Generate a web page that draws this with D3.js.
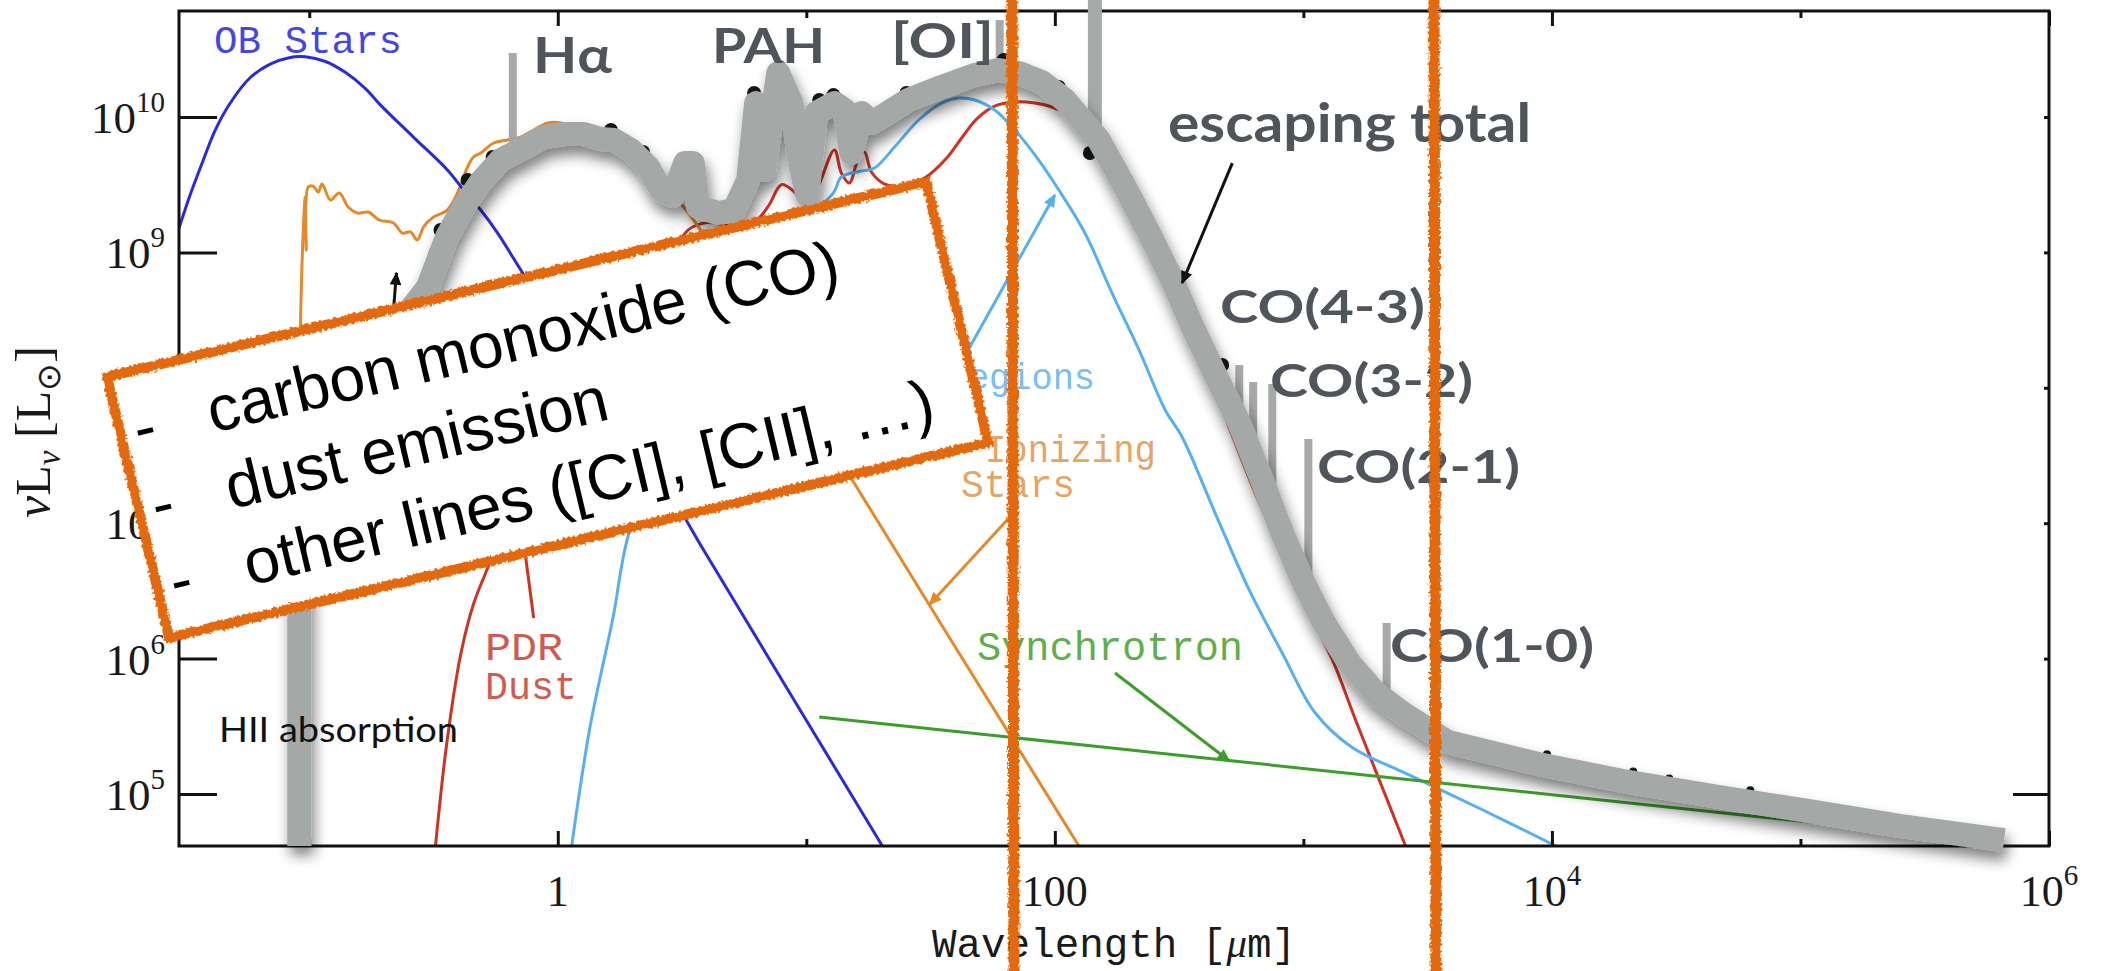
<!DOCTYPE html>
<html>
<head>
<meta charset="utf-8">
<script src="https://cdn.jsdelivr.net/npm/d3@7"></script>
<style>
body{margin:0;background:#fff;}
</style>
</head>
<body>
<svg id="sed" width="2107" height="971"></svg>
<script>
// every point is [log10 wavelength (um), log10 nuL_nu (Lsun)]
var obStars = [[-1.524,9.18],[-1.48,9.42],[-1.435,9.64],[-1.379,9.9],[-1.319,10.1],[-1.238,10.29],[-1.157,10.39],[-1.077,10.44],[-1.016,10.445],
  [-0.935,10.41],[-0.855,10.33],[-0.774,10.21],[-0.714,10.09],[-0.581,9.852],[-0.444,9.609],[-0.379,9.461],[-0.31,9.313],[-0.242,9.143],
  [-0.141,8.848],[0.492,7.097],[0.577,6.832],[1.306,4.616]];

var ionizingStars = [[-1.04,4.3],[-1.04,7.91],[-1.024,9.165],[-1.016,9.409],[-1.012,9.018],[-1.004,9.483],[-0.984,9.49],[-0.964,9.446],
  [-0.948,9.505],[-0.915,9.387],[-0.879,9.439],[-0.843,9.335],[-0.806,9.291],[-0.762,9.298],[-0.718,9.239],[-0.661,9.217],[-0.625,9.143],
  [-0.593,9.151],[-0.565,9.092],[-0.54,9.188],[-0.5,9.261],[-0.444,9.313],[-0.403,9.439],[-0.363,9.631],[-0.339,9.705],[-0.31,9.734],
  [-0.258,9.808],[-0.202,9.83],[-0.149,9.852],[-0.097,9.904],[-0.04,9.956],[0.012,9.956],[0.25,9.8],[0.5,9.35],[0.8,8.5],[1.19,7.304],[2.097,4.616]];

var hiiRegions = [[0.056,4.616],[0.129,5.487],[0.222,6.3],[0.29,6.95],[0.5,7.85],[0.75,8.65],[0.95,9.15],[1.109,9.439],[1.141,9.557],
  [1.222,9.601],[1.274,9.623],[1.355,9.778],[1.452,9.978],[1.544,10.103],[1.613,10.14],[1.677,10.126],[1.758,10.052],[1.839,9.904],
  [1.935,9.682],[2.016,9.461],[2.121,9.143],[2.23,8.7],[2.339,8.279],[2.444,7.836],[2.512,7.637],[2.645,7.075],[2.782,6.507],[2.915,6.041],
  [3.048,5.598],[3.198,5.341],[3.399,5.163],[3.722,4.882],[4.016,4.616]];

var pdrDust = [[-0.492,4.616],[-0.448,5.355],[-0.391,6.027],[-0.339,6.403],[-0.282,6.669],[-0.1,7.5],[0.2,8.4],[0.45,8.95],[0.524,9.165],
  [0.6,9.22],[0.68,9.2],[0.738,9.2],[0.806,9.25],[0.85,9.35],[0.9,9.5],[0.95,9.45],[1.0,9.35],[1.05,9.5],[1.113,9.756],[1.141,9.586],
  [1.173,9.513],[1.21,9.697],[1.234,9.742],[1.262,9.594],[1.315,9.505],[1.395,9.49],[1.476,9.549],[1.565,9.697],[1.625,9.845],[1.685,9.985],
  [1.758,10.081],[1.839,10.111],[1.919,10.103],[1.988,10.074],[2.069,10.0],[2.2,9.78],[2.35,9.3],[2.5,8.65],[2.65,7.95],[2.8,7.25],
  [2.95,6.62],[3.036,6.285],[3.117,5.99],[3.21,5.547],[3.411,4.616]];

var synchrotron = [[1.052,5.569],[2.2,5.345],[3.399,5.111],[5.036,4.793],[5.5,4.7]];

var escapingTotal = [[-1.04,4.616],[-1.04,7.762],[-0.875,8.058],[-0.673,8.39],[-0.524,8.737],[-0.444,9.121],[-0.379,9.335],[-0.31,9.52],
  [-0.23,9.682],[-0.137,9.771],[-0.056,9.852],[0.024,9.874],[0.105,9.874],[0.173,9.838],[0.226,9.83],[0.294,9.756],[0.363,9.631],
  [0.415,9.461],[0.464,9.417],[0.512,9.66],[0.544,9.66],[0.565,9.335],[0.645,9.291],[0.71,9.313],[0.766,9.535],[0.798,10.103],[0.831,9.609],
  [0.887,10.325],[0.94,10.103],[0.972,9.682],[1.004,9.424],[1.04,10.03],[1.113,10.103],[1.153,10.052],[1.181,9.734],[1.222,10.03],
  [1.262,9.956],[1.302,10.0],[1.411,10.126],[1.544,10.222],[1.677,10.31],[1.774,10.347],[1.855,10.325],[1.948,10.258],[2.04,10.126],
  [2.177,9.83],[2.282,9.483],[2.379,9.143],[2.472,8.796],[2.552,8.46],[2.645,8.1],[2.742,7.74],[2.835,7.31],[2.915,6.928],[2.996,6.58],
  [3.077,6.285],[3.185,5.967],[3.29,5.746],[3.399,5.598],[3.581,5.384],[3.944,5.222],[4.306,5.089],[4.673,4.978],[5.036,4.874],
  [5.399,4.764],[5.819,4.66]];

var totalPoints = [[-0.472,9.165],[-0.492,8.996],[-0.484,8.929],[-0.363,9.535],[-0.262,9.705],[0.214,9.904],[0.343,9.742],[0.79,10.177],
  [0.891,10.369],[1.052,10.126],[1.109,10.162],[1.403,10.177],[1.794,10.421],[1.899,10.325],[2.016,10.222],[2.141,9.734],[2.673,8.168],
  [3.98,5.294],[4.327,5.166],[4.472,5.115],[4.798,5.027]];

// emission lines: wavelength, top, base
var lineLam = [-0.181,1.778,2.161,2.742,2.798,2.875,3.02,3.335];
var lineTop = [10.473,10.716,10.864,8.168,8.043,8.028,7.622,6.263];
var lineBase = [9.73,10.345,9.87,7.76,7.5,7.12,6.5,5.69];

var xMajor = [1,100,1e4,1e6], xMinor = [0.1,10,1e3,1e5];
var xTickBase = ["1","100","10","10"], xTickExp = ["","","4","6"];
var yMajor = [1e5,1e6,1e7,1e8,1e9,1e10], yTickExp = ["5","6","7","8","9","10"];

var boxLines = ["carbon monoxide (CO)","dust emission","other lines ([CI], [CII], \u2026)"];

var arrowIonizing = [[1.819,7.046],[1.496,6.4]];
var arrowHII = [[1.633,8.22],[2.0,9.424]];
var arrowSynch = [[2.242,5.894],[2.702,5.244]];
var arrowEscape = [[2.714,9.66],[2.512,8.774]];
var arrowAbsorb = [[-0.661,8.575],[-0.649,8.848]];
var pdrPointer = [[-0.133,6.802],[-0.097,6.3]];

var x = d3.scaleLog().domain([Math.pow(10,-1.524),1e6]).range([179,2049]);
var y = d3.scaleLog().domain([Math.pow(10,4.616),Math.pow(10,10.783)]).range([846,11]);
function px(d){return x(Math.pow(10,d[0]));}
function py(d){return y(Math.pow(10,d[1]));}
var line = d3.line().x(px).y(py).curve(d3.curveCatmullRom.alpha(0.5));
var straight = d3.line().x(px).y(py);

var svg = d3.select("#sed");
var defs = svg.append("defs");
defs.append("clipPath").attr("id","plotclip").append("rect")
  .attr("x",179).attr("y",11).attr("width",1870).attr("height",835);

var shadow = defs.append("filter").attr("id","shadow")
  .attr("x","-5%").attr("y","-5%").attr("width","112%").attr("height","125%");
shadow.append("feGaussianBlur").attr("in","SourceAlpha").attr("stdDeviation",7).attr("result","blur");
shadow.append("feOffset").attr("in","blur").attr("dx",3).attr("dy",9).attr("result","off");
shadow.append("feComponentTransfer").attr("in","off").attr("result","soft")
  .append("feFuncA").attr("type","linear").attr("slope",0.5);
var merge = shadow.append("feMerge");
merge.append("feMergeNode").attr("in","soft");
merge.append("feMergeNode").attr("in","SourceGraphic");

var rough = defs.append("filter").attr("id","rough").attr("filterUnits","userSpaceOnUse")
  .attr("x",-300).attr("y",-300).attr("width",2800).attr("height",1600);
rough.append("feTurbulence").attr("type","fractalNoise").attr("baseFrequency",0.35)
  .attr("numOctaves",2).attr("seed",4).attr("result","noise");
rough.append("feDisplacementMap").attr("in","SourceGraphic").attr("in2","noise").attr("scale",6)
  .attr("xChannelSelector","R").attr("yChannelSelector","G");

function marker(id,color){
  defs.append("marker").attr("id",id).attr("viewBox","0 0 10 10")
    .attr("refX",9).attr("refY",5).attr("markerWidth",15).attr("markerHeight",13)
    .attr("markerUnits","userSpaceOnUse").attr("orient","auto")
    .append("path").attr("d","M0,0.5 L10,5 L0,9.5 z").attr("fill",color);
}
marker("mOrange","#e38a2c");
marker("mBlue","#58aff0");
marker("mGreen","#3c9e2a");
marker("mBlack","#111");

// model components
var comps = svg.append("g").attr("clip-path","url(#plotclip)").attr("fill","none").attr("stroke-width",3);
[[pdrDust,"#cc3322"],[hiiRegions,"#58aff0"],[synchrotron,"#3c9e2a"],[ionizingStars,"#e38a2c"],[obStars,"#2b2bd6"]]
.forEach(function(c){
  comps.append("path").attr("d",line(c[0])).attr("stroke",c[1]).attr("stroke-linejoin","round");
});

var arrows = svg.append("g").attr("fill","none").attr("stroke-width",3);
arrows.append("path").attr("d",straight(arrowIonizing)).attr("stroke","#e38a2c").attr("marker-end","url(#mOrange)");
arrows.append("path").attr("d",straight(arrowHII)).attr("stroke","#58aff0").attr("marker-end","url(#mBlue)");
arrows.append("path").attr("d",straight(arrowSynch)).attr("stroke","#3c9e2a").attr("marker-end","url(#mGreen)");
arrows.append("path").attr("d",straight(pdrPointer)).attr("stroke","#cc3322");

function label(t,xx,yy,size,len,color,anchor){
  return svg.append("text").attr("x",xx).attr("y",yy)
    .attr("font-family","'Liberation Mono', monospace").attr("font-size",size)
    .attr("fill",color).attr("text-anchor",anchor||"start")
    .attr("textLength",len).attr("lengthAdjust","spacingAndGlyphs").text(t);
}
label("OB Stars",214,53,39,188,"#4545df");
label("PDR",485,660,39,78,"#d05a50");
label("Dust",485,699,39,92,"#d05a50");
label("Synchrotron",977,660,40,266,"#5fae4c");
label("Ionizing",985,462,38,171,"#e6a565");
label("Stars",961,497,38,114,"#e6a565");
label("HII Regions",1095,389,37,233,"#7cbdf0","end");

// frame and ticks
var axes = svg.append("g");
function styleAxis(g){
  g.select(".domain").remove();
  g.selectAll("line").attr("stroke","#111").attr("stroke-width",3);
}
axes.append("g").attr("transform","translate(0,846)")
  .call(d3.axisBottom(x).tickValues(xMajor).tickSize(-15).tickFormat("")).call(styleAxis);
axes.append("g").attr("transform","translate(0,846)")
  .call(d3.axisBottom(x).tickValues(xMinor).tickSize(-7).tickFormat("")).call(styleAxis);
axes.append("g").attr("transform","translate(0,11)")
  .call(d3.axisTop(x).tickValues(xMajor).tickSize(-15).tickFormat("")).call(styleAxis);
axes.append("g").attr("transform","translate(0,11)")
  .call(d3.axisTop(x).tickValues(xMinor).tickSize(-7).tickFormat("")).call(styleAxis);
axes.append("g").attr("transform","translate(179,0)")
  .call(d3.axisLeft(y).tickValues(yMajor).tickSize(-38).tickFormat("")).call(styleAxis);
axes.append("g").attr("transform","translate(2049,0)")
  .call(d3.axisRight(y).tickValues(yMajor.slice(1)).tickSize(-5).tickFormat("")).call(styleAxis);
axes.append("g").attr("transform","translate(2049,0)")
  .call(d3.axisRight(y).tickValues([yMajor[0]]).tickSize(-36).tickFormat("")).call(styleAxis);
axes.append("rect").attr("x",179).attr("y",11).attr("width",1870).attr("height",835)
  .attr("fill","none").attr("stroke","#111").attr("stroke-width",3);

var tickFont = "'Liberation Serif', serif";
yMajor.forEach(function(v,i){
  var t = axes.append("text").attr("x",165).attr("y",y(v)+16).attr("text-anchor","end")
    .attr("font-family",tickFont).attr("font-size",45).attr("fill","#1a1a1a");
  t.append("tspan").text("10");
  t.append("tspan").attr("font-size",29).attr("dy",-21).text(yTickExp[i]);
});
xMajor.forEach(function(v,i){
  var t = axes.append("text").attr("x",x(v)).attr("y",906).attr("text-anchor","middle")
    .attr("font-family",tickFont).attr("font-size",44).attr("fill","#1a1a1a");
  t.append("tspan").text(xTickBase[i]);
  if(xTickExp[i]) t.append("tspan").attr("font-size",29).attr("dy",-21).text(xTickExp[i]);
});

var xt = axes.append("text").attr("x",932).attr("y",957)
  .attr("font-family","'Liberation Mono', monospace").attr("font-size",40).attr("fill","#1a1a1a")
  .attr("textLength",364).attr("lengthAdjust","spacingAndGlyphs");
xt.append("tspan").text("Wavelength [");
xt.append("tspan").attr("font-family",tickFont).attr("font-style","italic").text("\u03bc");
xt.append("tspan").text("m]");

var yt = axes.append("text").attr("transform","translate(50,432) rotate(-90)").attr("text-anchor","middle")
  .attr("font-family",tickFont).attr("font-size",50).attr("fill","#1a1a1a");
yt.append("tspan").attr("font-style","italic").text("\u03bd");
yt.append("tspan").text("L");
yt.append("tspan").attr("font-size",33).attr("dy",10).attr("font-style","italic").text("\u03bd");
yt.append("tspan").attr("dy",-10).text(" [L");
yt.append("tspan").attr("font-size",33).attr("dy",10).text("\u2299");
yt.append("tspan").attr("dy",-10).text("]");

// emission lines, data points and the escaping total overlay
svg.append("g").selectAll("line").data(lineLam).join("line")
  .attr("x1",function(d){return x(Math.pow(10,d));})
  .attr("x2",function(d){return x(Math.pow(10,d));})
  .attr("y1",function(d,i){return y(Math.pow(10,lineTop[i]));})
  .attr("y2",function(d,i){return y(Math.pow(10,lineBase[i]));})
  .attr("stroke","#a6a9a8")
  .attr("stroke-width",function(d,i){return i==2?14:8;});

svg.append("g").selectAll("circle").data(totalPoints).join("circle")
  .attr("cx",px).attr("cy",py).attr("r",function(d){return d[0]>3.5?4:7;}).attr("fill","#151515");

svg.append("path").attr("d",straight(escapingTotal)).attr("fill","none")
  .attr("stroke","#a4a8a7").attr("stroke-width",24).attr("stroke-linejoin","round")
  .attr("filter","url(#shadow)");

var notes = svg.append("g").attr("font-family","Lato, 'Open Sans', sans-serif").attr("font-weight",700).attr("fill","#50555c");
[["H\u03b1",533,73,50,79],["PAH",712,63,48,113],["[OI]",891,58,48,103],["escaping total",1168,142,53,363],
 ["CO(4-3)",1220,323,46,205],["CO(3-2)",1270,397,46,203],["CO(2-1)",1317,483,46,203],["CO(1-0)",1390,662,46,204]]
.forEach(function(n){
  notes.append("text").attr("x",n[1]).attr("y",n[2]).attr("font-size",n[3])
    .attr("textLength",n[4]).attr("lengthAdjust","spacingAndGlyphs").text(n[0]);
});
svg.append("text").attr("x",219).attr("y",742).attr("font-family","Lato, sans-serif").attr("font-size",35)
  .attr("fill","#111").attr("textLength",239).attr("lengthAdjust","spacingAndGlyphs").text("HII absorption");

var blackArrows = svg.append("g").attr("fill","none").attr("stroke","#111").attr("stroke-width",3);
blackArrows.append("path").attr("d",straight(arrowEscape)).attr("marker-end","url(#mBlack)");
blackArrows.append("path").attr("d",straight(arrowAbsorb)).attr("marker-end","url(#mBlack)");

// hand drawn box with notes
var box = svg.append("g").attr("transform","translate(107,377) rotate(-13.4)");
box.append("rect").attr("width",842).attr("height",268).attr("fill","#fff");
box.append("rect").attr("width",842).attr("height",268).attr("fill","none")
  .attr("stroke","#e2690f").attr("stroke-width",10).attr("filter","url(#rough)");
boxLines.forEach(function(t,i){
  box.append("text").attr("x",14).attr("y",79+i*78.5)
    .attr("font-family","'Liberation Sans', Arial, sans-serif").attr("font-size",64).attr("fill","#000").text("-");
  box.append("text").attr("x",90).attr("y",79+i*78.5)
    .attr("font-family","'Liberation Sans', Arial, sans-serif").attr("font-size",64).attr("fill","#000").text(t);
});

// orange markers across the chart
svg.append("g").attr("stroke","#e2690f").attr("stroke-width",11).attr("filter","url(#rough)")
  .selectAll("line").data([1012,1434]).join("line")
  .attr("x1",function(d){return d;}).attr("x2",function(d){return d+2;})
  .attr("y1",-10).attr("y2",985);
</script>
</body>
</html>
